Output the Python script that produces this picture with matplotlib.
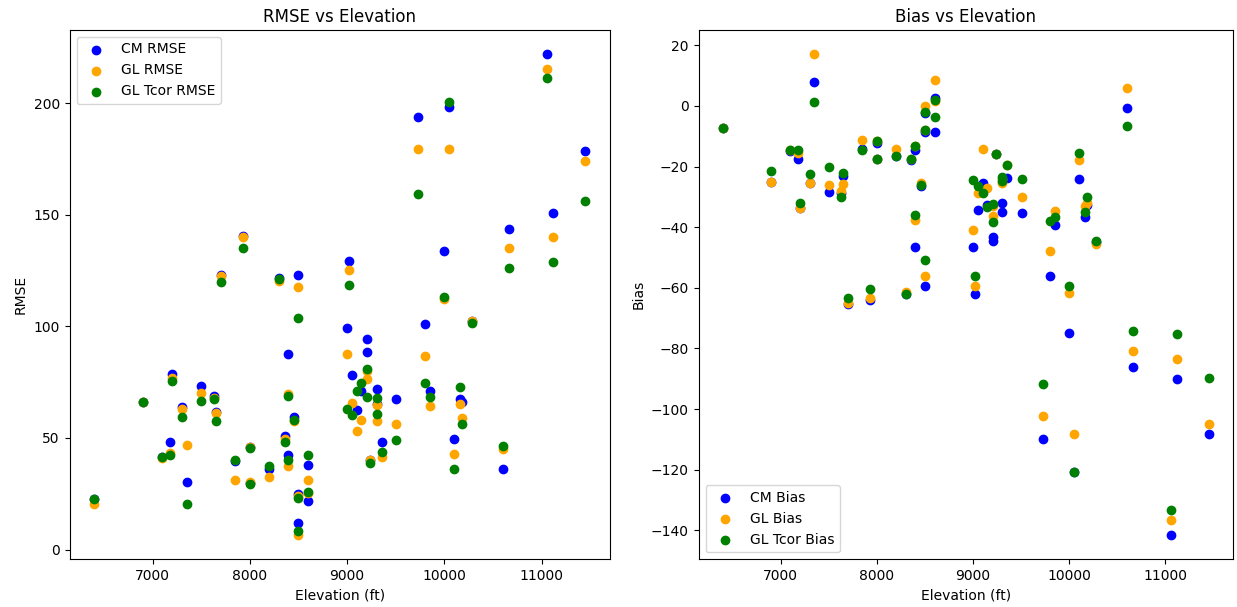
import matplotlib
matplotlib.use("Agg")
import matplotlib.pyplot as plt

elevation = [6400, 6900, 7100, 7180, 7200, 7300, 7350, 7500, 7630, 7650,
             7700, 7850, 7930, 8000, 8000, 8200, 8300, 8360, 8395, 8395,
             8455, 8500, 8500, 8500, 8600, 8600, 9000, 9020, 9050, 9100,
             9140, 9205, 9205, 9236, 9305, 9305, 9355, 9505, 9730, 9800,
             9850, 10000, 10045, 10100, 10165, 10180, 10280, 10600, 10665, 11060,
             11120, 11450]

cm_rmse = [22.5, 66.0, 41.5, 48.2, 78.7, 63.9, 30.2, 73.4, 68.7, 61.8,
           123.1, 39.6, 140.6, 46.0, 30.0, 36.3, 121.5, 50.7, 87.8, 42.4,
           59.2, 123.1, 25.1, 11.9, 38.1, 21.6, 99.1, 129.4, 78.1, 62.4,
           71.2, 94.3, 88.7, 39.9, 72.1, 65.2, 48.2, 67.6, 193.9, 101.0,
           70.9, 133.9, 198.5, 49.7, 67.6, 66.0, 102.3, 36.1, 143.6, 222.1,
           150.8, 178.8]

gl_rmse = [20.6, 66.0, 41.0, 43.3, 77.0, 63.0, 47.0, 70.2, 68.0, 61.2,
           122.7, 31.3, 140.0, 45.8, 30.2, 32.4, 120.2, 49.7, 69.9, 37.6,
           57.8, 117.5, 24.0, 6.4, 31.3, 25.5, 87.8, 125.4, 65.7, 53.0,
           58.2, 80.0, 76.6, 39.9, 65.0, 57.8, 41.5, 56.3, 179.4, 86.9,
           64.2, 112.3, 179.4, 42.8, 65.2, 59.0, 102.5, 45.2, 135.1, 215.3,
           139.9, 174.2]

gl_tcor_rmse = [22.7, 66.1, 41.3, 42.2, 75.7, 59.4, 20.6, 66.7, 67.6, 57.8,
                119.7, 40.0, 135.1, 45.4, 29.4, 37.3, 121.2, 48.1, 69.0, 40.0,
                58.2, 103.8, 23.2, 8.5, 42.2, 25.8, 63.0, 118.7, 60.2, 70.9,
                74.6, 80.7, 68.4, 38.8, 67.9, 60.9, 43.6, 49.3, 159.3, 74.6,
                68.2, 113.4, 200.5, 36.1, 72.9, 56.3, 101.5, 46.6, 126.3, 211.2,
                128.7, 156.3]

cm_bias = [-7.4, -25.1, -15.0, -17.6, -33.7, -25.3, 8.0, -28.4, -28.8, -23.2,
           -65.5, -14.2, -64.0, -17.5, -12.2, -16.4, -62.0, -18.0, -46.4, -14.4,
           -26.5, -59.3, -2.4, -8.5, 2.5, -8.7, -46.7, -61.9, -34.3, -25.3,
           -32.6, -44.4, -43.1, -16.0, -35.0, -32.1, -23.8, -35.4, -109.7, -56.2,
           -39.2, -74.9, -120.7, -24.0, -36.5, -32.6, -45.0, -0.6, -86.2, -141.6,
           -90.1, -108.1]

gl_bias = [-7.4, -25.1, -14.7, -15.5, -33.7, -25.3, 17.1, -26.0, -28.0, -25.7,
           -65.0, -11.2, -63.4, -17.5, -11.7, -14.3, -61.5, -17.6, -37.5, -13.2,
           -25.5, -56.0, -0.2, -8.0, 8.6, 1.5, -40.9, -59.5, -28.8, -14.3,
           -27.1, -36.2, -33.0, -16.0, -25.5, -24.0, -19.4, -30.2, -102.4, -47.8,
           -34.8, -61.7, -108.1, -17.8, -33.0, -32.1, -45.5, 6.0, -80.7, -136.6,
           -83.5, -104.9]

gl_tcor_bias = [-7.4, -21.6, -14.7, -14.7, -32.1, -22.5, 1.2, -20.2, -29.9, -22.0,
                -63.4, -14.7, -60.3, -17.5, -11.7, -16.4, -61.9, -17.6, -35.9, -13.2,
                -26.0, -50.7, -1.9, -7.9, -3.5, 2.0, -24.6, -56.2, -26.4, -28.8,
                -33.5, -38.4, -32.3, -15.8, -24.9, -23.3, -19.4, -24.0, -91.7, -37.8,
                -36.5, -59.3, -120.7, -15.6, -35.1, -30.2, -44.7, -6.5, -74.1, -133.4,
                -75.1, -89.7]

fig = plt.figure(figsize=(12.37, 6.07), dpi=100)
ax1 = fig.add_axes([0.0563, 0.0786, 0.4367, 0.872])
ax2 = fig.add_axes([0.5648, 0.0786, 0.432, 0.872])

ax1.scatter(elevation, cm_rmse, color="blue", label="CM RMSE")
ax1.scatter(elevation, gl_rmse, color="orange", label="GL RMSE")
ax1.scatter(elevation, gl_tcor_rmse, color="green", label="GL Tcor RMSE")
ax1.set_title("RMSE vs Elevation")
ax1.set_xlabel("Elevation (ft)")
ax1.set_ylabel("RMSE")
ax1.legend(loc="upper left")

ax2.scatter(elevation, cm_bias, color="blue", label="CM Bias")
ax2.scatter(elevation, gl_bias, color="orange", label="GL Bias")
ax2.scatter(elevation, gl_tcor_bias, color="green", label="GL Tcor Bias")
ax2.set_title("Bias vs Elevation")
ax2.set_xlabel("Elevation (ft)")
ax2.set_ylabel("Bias")
ax2.legend(loc="lower left")

fig.savefig("out.png", dpi=100)
